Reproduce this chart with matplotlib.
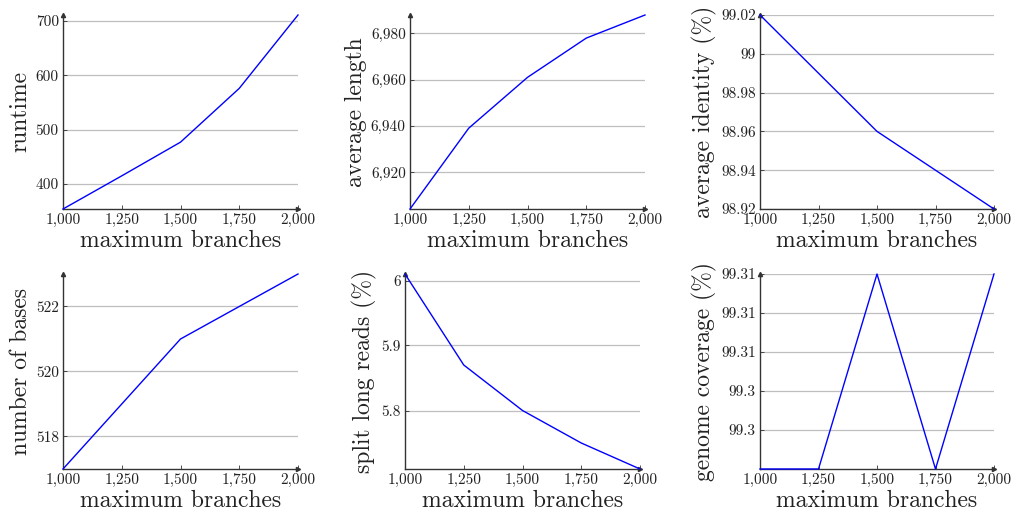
import matplotlib
matplotlib.use("Agg")
import matplotlib.pyplot as plt

plt.rcParams['font.family'] = ['cmr10', 'DejaVu Serif']
plt.rcParams['mathtext.fontset'] = 'cm'
plt.rcParams['axes.formatter.use_mathtext'] = True

# data
branches = [1000, 1250, 1500, 1750, 2000]
x_labels = ["1,000", "1,250", "1,500", "1,750", "2,000"]

runtime = [354, 415, 477, 576, 711]
avg_length = [6904, 6939, 6961, 6978, 6988]
avg_identity = [99.02, 98.99, 98.96, 98.94, 98.92]
num_bases = [517, 519, 521, 522, 523]
split_reads = [6.01, 5.87, 5.80, 5.75, 5.71]
coverage = [99.302, 99.302, 99.307, 99.302, 99.307]

panels = [
    ("runtime", runtime, [400, 500, 600, 700], ["400", "500", "600", "700"]),
    ("average length", avg_length, [6920, 6940, 6960, 6980],
     ["6,920", "6,940", "6,960", "6,980"]),
    ("average identity (%)", avg_identity, [98.92, 98.94, 98.96, 98.98, 99.0, 99.02],
     ["98.92", "98.94", "98.96", "98.98", "99", "99.02"]),
    ("number of bases", num_bases, [518, 520, 522], ["518", "520", "522"]),
    ("split long reads (%)", split_reads, [5.8, 5.9, 6.0], ["5.8", "5.9", "6"]),
    ("genome coverage (%)", coverage, [99.303, 99.304, 99.305, 99.306, 99.307],
     ["99.3", "99.3", "99.31", "99.31", "99.31"]),
]

W, H = 1013, 516
# axes boxes in pixels: left, top, right, bottom
boxes = [
    (63, 15, 298, 209),
    (410, 15, 645, 209),
    (760, 15, 994, 209),
    (63, 274, 298, 469),
    (405, 274, 640, 469),
    (760, 274, 994, 469),
]

fig = plt.figure(figsize=(W / 100, H / 100), dpi=100)

for (ylabel, vals, yticks, ylabels), (l, t, r, b) in zip(panels, boxes):
    ax = fig.add_axes([l / W, 1 - b / H, (r - l) / W, (b - t) / H])
    ax.plot(branches, vals, color="#0000ff", lw=1.0, zorder=3, clip_on=False)
    ax.set_xlim(1000, 2000)
    ax.set_ylim(min(vals), max(vals))
    ax.set_xticks(branches)
    ax.set_xticklabels(x_labels)
    ax.set_yticks(yticks)
    ax.set_yticklabels(ylabels)
    ax.grid(axis="y", color="#bfbfbf", lw=0.9)
    ax.set_axisbelow(True)
    for s in ["top", "right"]:
        ax.spines[s].set_visible(False)
    for s in ["left", "bottom"]:
        ax.spines[s].set_color("#333333")
        ax.spines[s].set_linewidth(1.0)
    ax.tick_params(direction="in", length=3, width=0.6, labelsize=11,
                   colors="#333333", labelcolor="#222222", pad=3)
    ax.plot(1, 0, ">", color="#333333", ms=3, transform=ax.transAxes, clip_on=False)
    ax.plot(0, 1, "^", color="#333333", ms=3, transform=ax.transAxes, clip_on=False)
    ax.set_xlabel("maximum branches", fontsize=17, color="#222222", labelpad=2)
    ax.set_ylabel(ylabel, fontsize=17, color="#222222", labelpad=3)

fig.savefig("out.png", dpi=100)
